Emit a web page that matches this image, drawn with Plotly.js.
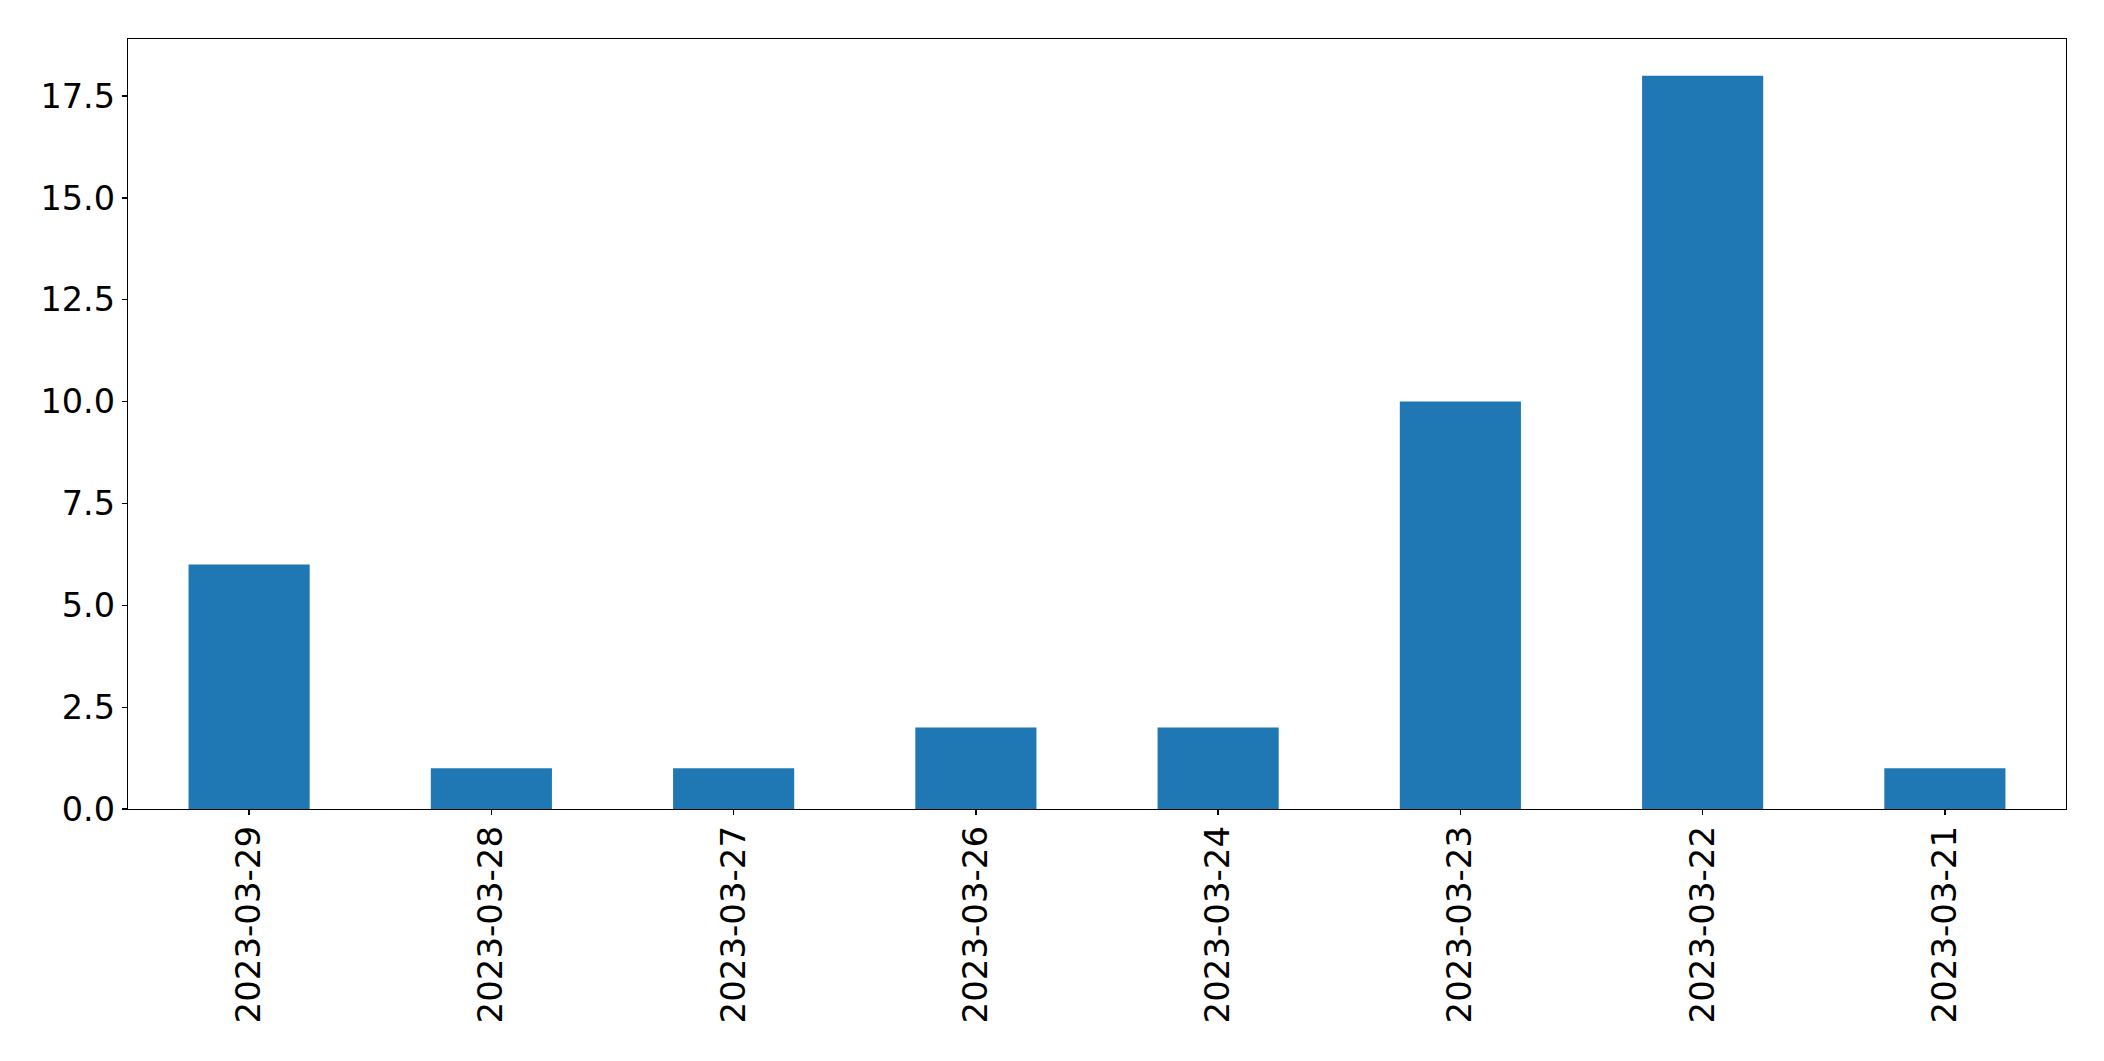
<!DOCTYPE html>
<html>
<head>
<meta charset="utf-8">
<script src="https://cdn.plot.ly/plotly-3.0.1.min.js"></script>
<style>html,body{margin:0;padding:0;background:#fff;}#chart{width:2104px;height:1061px;}</style>
</head>
<body>
<div id="chart"></div>
<script>
const dates = ["2023-03-29","2023-03-28","2023-03-27","2023-03-26","2023-03-24","2023-03-23","2023-03-22","2023-03-21"];
const counts = [6, 1, 1, 2, 2, 10, 18, 1];
const yTicks = [0, 2.5, 5, 7.5, 10, 12.5, 15, 17.5];

const xfont = {family: "DejaVu Sans", size: 34, color: "#000"};
const yfont = {family: "DejaVu Sans", size: 33.5, color: "#000"};
Plotly.newPlot("chart", [{
  type: "bar",
  x: dates,
  y: counts,
  marker: {color: "#1f77b4", line: {width: 0}},
  hoverinfo: "x+y"
}], {
  width: 2104, height: 1061,
  margin: {l: 127.5, r: 38.3, t: 39.3, b: 252, pad: 0},
  paper_bgcolor: "#fff", plot_bgcolor: "#fff",
  bargap: 0.5,
  showlegend: false,
  font: xfont,
  xaxis: {
    type: "category",
    range: [-0.5, dates.length - 0.5],
    showgrid: false, zeroline: false,
    showline: true, mirror: true, linecolor: "#000", linewidth: 1.3,
    ticks: "outside", ticklen: 5, tickwidth: 1.3, tickcolor: "#000",
    tickangle: -90, tickfont: xfont, ticklabelstandoff: -3
  },
  yaxis: {
    range: [0, 18.9],
    tickvals: yTicks, tickformat: ".1f",
    showgrid: false, zeroline: false,
    showline: true, mirror: true, linecolor: "#000", linewidth: 1.3,
    ticks: "outside", ticklen: 5, tickwidth: 1.3, tickcolor: "#000",
    tickfont: yfont
  }
}, {displayModeBar: false, staticPlot: true});
</script>
</body>
</html>
